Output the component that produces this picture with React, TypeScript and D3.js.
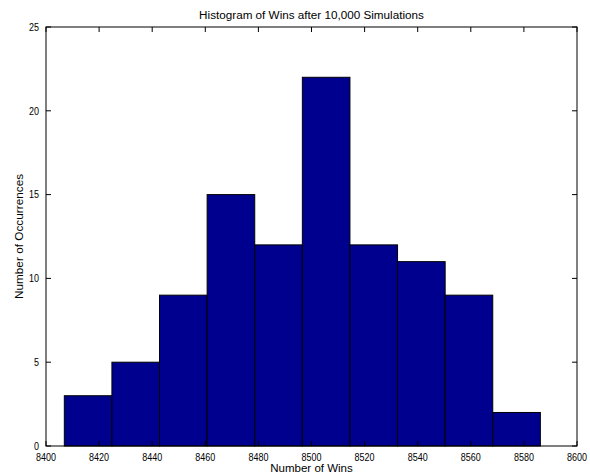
import React from "react";
import * as d3 from "d3";

const binEdgesStart = 8406.9;
const binWidth = 17.93;
const counts = [3, 5, 9, 15, 12, 22, 12, 11, 9, 2];
const xTicks = [8400, 8420, 8440, 8460, 8480, 8500, 8520, 8540, 8560, 8580, 8600];
const yTicks = [0, 5, 10, 15, 20, 25];
const title = "Histogram of Wins after 10,000 Simulations";
const xLabel = "Number of Wins";
const yLabel = "Number of Occurrences";

const W = 590, H = 475;
const m = { left: 46, right: 13, top: 27, bottom: 29 };

export default function App() {
  const x = d3.scaleLinear().domain([8400, 8600]).range([m.left, W - m.right]);
  const y = d3.scaleLinear().domain([0, 25]).range([H - m.bottom, m.top]);
  const font = "Liberation Sans, Arial, Helvetica, sans-serif";
  const bins = counts.map((c, i) => ({ x0: binEdgesStart + i * binWidth, x1: binEdgesStart + (i + 1) * binWidth, c }));
  const x0 = m.left, x1 = W - m.right, y0 = H - m.bottom, y1 = m.top;
  const tl = 5;
  const digitW = 5.0;
  return (
    <svg width={W} height={H} style={{ position: "absolute", left: 0, top: 0, background: "#fff" }} fontFamily={font}>
      <rect x={0} y={0} width={W} height={H} fill="#fff" />
      {bins.map((b, i) => (
        <rect key={i} x={x(b.x0)} y={y(b.c)} width={x(b.x1) - x(b.x0)} height={y(0) - y(b.c)} fill="#00008F" stroke="#000" strokeWidth={1} />
      ))}
      <rect x={x0} y={y1} width={x1 - x0} height={y0 - y1} fill="none" stroke="#000" strokeWidth={1} />
      {xTicks.map((t) => (
        <g key={"x" + t}>
          <line x1={x(t)} x2={x(t)} y1={y0} y2={y0 - tl} stroke="#000" />
          <line x1={x(t)} x2={x(t)} y1={y1} y2={y1 + tl} stroke="#000" />
          <text x={x(t)} y={y0 + 15} fontSize={11} textAnchor="middle" fill="#000" textLength={String(t).length * digitW} lengthAdjust="spacingAndGlyphs">{t}</text>
        </g>
      ))}
      {yTicks.map((t) => (
        <g key={"y" + t}>
          <line x1={x0} x2={x0 + tl} y1={y(t)} y2={y(t)} stroke="#000" />
          <line x1={x1} x2={x1 - tl} y1={y(t)} y2={y(t)} stroke="#000" />
          <text x={x0 - 7} y={y(t) + 3.8} fontSize={11} textAnchor="end" fill="#000" textLength={String(t).length * digitW} lengthAdjust="spacingAndGlyphs">{t}</text>
        </g>
      ))}
      <text x={(x0 + x1) / 2} y={18.5} fontSize={11.7} textAnchor="middle" fill="#000">{title}</text>
      <text x={(x0 + x1) / 2} y={472} fontSize={11.5} textAnchor="middle" fill="#000">{xLabel}</text>
      <text transform={`translate(22.5,${(y0 + y1) / 2}) rotate(-90)`} fontSize={11.8} textAnchor="middle" fill="#000">{yLabel}</text>
    </svg>
  );
}
